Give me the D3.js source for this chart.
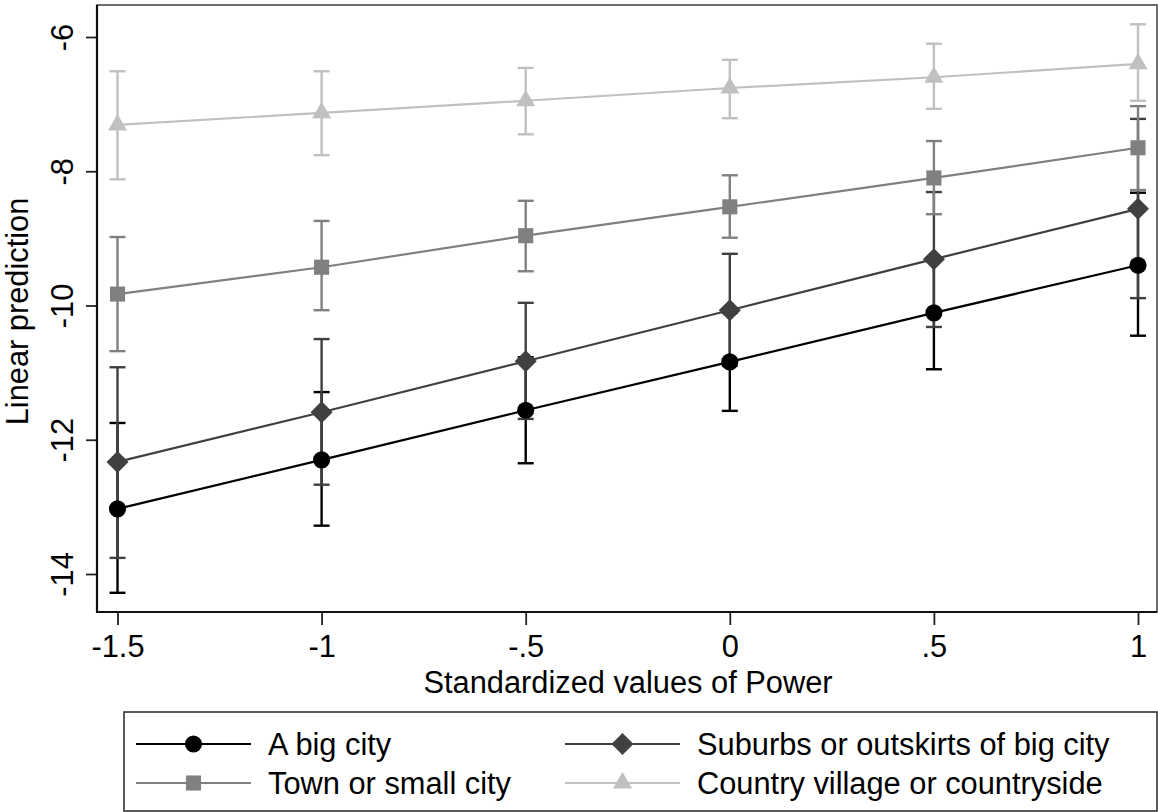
<!DOCTYPE html>
<html>
<head>
<meta charset="utf-8">
<script src="https://cdn.jsdelivr.net/npm/d3@7"></script>
<style>
  html, body { margin: 0; padding: 0; background: #fff; }
  svg { display: block; font-family: "Liberation Sans", Arial, sans-serif; }
</style>
</head>
<body>
<svg id="chart" width="1158" height="812"></svg>
<script>
// Predicted values by standardized Power, one series per place of residence
const powerValues = [-1.5, -1, -0.5, 0, 0.5, 1];

const seriesNames = [
  "A big city",
  "Suburbs or outskirts of big city",
  "Town or small city",
  "Country village or countryside"
];

const bigCity      = [-13.03, -12.30, -11.56, -10.84, -10.11, -9.40];
const bigCityLo    = [-14.28, -13.28, -12.35, -11.57, -10.95, -10.45];
const bigCityHi    = [-11.75, -11.29, -10.77, -10.11, -9.28, -8.32];

const suburbs      = [-12.33, -11.59, -10.83, -10.07, -9.31, -8.56];
const suburbsLo    = [-13.76, -12.67, -11.69, -10.90, -10.32, -9.89];
const suburbsHi    = [-10.92, -10.50, -9.96, -9.23, -8.31, -7.22];

const town         = [-9.83, -9.43, -8.96, -8.53, -8.10, -7.65];
const townLo       = [-10.68, -10.07, -9.49, -8.99, -8.64, -8.28];
const townHi       = [-8.98, -8.74, -8.44, -8.06, -7.55, -7.03];

const country      = [-7.31, -7.13, -6.95, -6.76, -6.60, -6.40];
const countryLo    = [-8.12, -7.76, -7.45, -7.21, -7.07, -6.95];
const countryHi    = [-6.51, -6.51, -6.46, -6.34, -6.10, -5.81];

const xTicks = [-1.5, -1, -0.5, 0, 0.5, 1];
const xTickLabels = ["-1.5", "-1", "-.5", "0", ".5", "1"];
const yTicks = [-14, -12, -10, -8, -6];
const yTickLabels = ["-14", "-12", "-10", "-8", "-6"];

const xTitle = "Standardized values of Power";
const yTitle = "Linear prediction";

// Styling per series (mono scheme)
const colors = ["#000000", "#404040", "#808080", "#c0c0c0"];
const symbols = [d3.symbolCircle, d3.symbolDiamond2, d3.symbolSquare2, d3.symbolTriangle2];
const symbolSizes = [230, 310, 290, 260];

const series = [
  { name: seriesNames[0], y: bigCity, lo: bigCityLo, hi: bigCityHi },
  { name: seriesNames[1], y: suburbs, lo: suburbsLo, hi: suburbsHi },
  { name: seriesNames[2], y: town,    lo: townLo,    hi: townHi },
  { name: seriesNames[3], y: country, lo: countryLo, hi: countryHi }
];

const svg = d3.select("#chart");
const fontSize = 30.8;

// Plot region
const plot = { left: 97, top: 5, right: 1157, bottom: 612 };

const x = d3.scaleLinear().domain([-1.5, 1]).range([117.5, 1138]);
const y = d3.scaleLinear().domain([-14, -6]).range([574, 37]);

// Plot region outline
svg.append("rect")
  .attr("x", plot.left).attr("y", plot.top)
  .attr("width", plot.right - plot.left)
  .attr("height", plot.bottom - plot.top)
  .attr("fill", "none")
  .attr("stroke", "#4a4a4a")
  .attr("stroke-width", 1.6);

// Y axis
const yAxis = svg.append("g")
  .attr("transform", `translate(${plot.left},0)`)
  .call(d3.axisLeft(y).tickValues(yTicks)
    .tickFormat((d, i) => yTickLabels[i]).tickSize(11));
yAxis.select(".domain").remove();
yAxis.selectAll(".tick line").attr("stroke", "#222").attr("stroke-width", 1.8);
yAxis.selectAll(".tick text")
  .attr("x", 0).attr("dy", 0)
  .attr("text-anchor", "middle")
  .attr("transform", "translate(-24,0) rotate(-90)")
  .attr("font-size", fontSize)
  .attr("font-family", "Liberation Sans, Arial, sans-serif")
  .attr("fill", "#000");

// X axis
const xAxis = svg.append("g")
  .attr("transform", `translate(0,${plot.bottom})`)
  .call(d3.axisBottom(x).tickValues(xTicks)
    .tickFormat((d, i) => xTickLabels[i]).tickSize(13));
xAxis.select(".domain").remove();
xAxis.selectAll(".tick line").attr("stroke", "#222").attr("stroke-width", 1.8);
xAxis.selectAll(".tick text")
  .attr("y", 45).attr("dy", 0)
  .attr("font-size", fontSize)
  .attr("font-family", "Liberation Sans, Arial, sans-serif")
  .attr("fill", "#000");

// Axis lines
svg.append("line")
  .attr("x1", plot.left).attr("x2", plot.left)
  .attr("y1", plot.top).attr("y2", plot.bottom + 1)
  .attr("stroke", "#111").attr("stroke-width", 2.2);
svg.append("line")
  .attr("x1", plot.left - 1).attr("x2", plot.right)
  .attr("y1", plot.bottom).attr("y2", plot.bottom)
  .attr("stroke", "#111").attr("stroke-width", 2.2);

// Axis titles
svg.append("text")
  .attr("x", (plot.left + plot.right) / 2 + 1)
  .attr("y", 693)
  .attr("text-anchor", "middle")
  .attr("font-size", fontSize)
  .text(xTitle);

svg.append("text")
  .attr("transform", `translate(28,${(plot.top + plot.bottom) / 2 + 3}) rotate(-90)`)
  .attr("text-anchor", "middle")
  .attr("font-size", fontSize)
  .text(yTitle);

// Confidence intervals (capped spikes)
const capHalf = 8;
series.forEach((s, si) => {
  const g = svg.append("g").attr("stroke", colors[si]).attr("stroke-width", 2.4);
  powerValues.forEach((p, i) => {
    const cx = x(p);
    g.append("line").attr("x1", cx).attr("x2", cx)
      .attr("y1", y(s.lo[i])).attr("y2", y(s.hi[i]));
    g.append("line").attr("x1", cx - capHalf).attr("x2", cx + capHalf)
      .attr("y1", y(s.lo[i])).attr("y2", y(s.lo[i]));
    g.append("line").attr("x1", cx - capHalf).attr("x2", cx + capHalf)
      .attr("y1", y(s.hi[i])).attr("y2", y(s.hi[i]));
  });
});

// Connected lines with markers
const lineGen = d3.line().x((d, i) => x(powerValues[i])).y(d => y(d));
series.forEach((s, si) => {
  svg.append("path")
    .datum(s.y)
    .attr("d", lineGen)
    .attr("fill", "none")
    .attr("stroke", colors[si])
    .attr("stroke-width", 2.2);
  svg.append("g").selectAll("path")
    .data(s.y)
    .join("path")
    .attr("transform", (d, i) => `translate(${x(powerValues[i])},${y(d)})`)
    .attr("d", d3.symbol().type(symbols[si]).size(symbolSizes[si]))
    .attr("fill", colors[si]);
});

// Legend
const legend = svg.append("g");
legend.append("rect")
  .attr("x", 124).attr("y", 712)
  .attr("width", 1033).attr("height", 99)
  .attr("fill", "#fff")
  .attr("stroke", "#333").attr("stroke-width", 1.6);

const legendCols = [136, 565];
const legendRows = [744, 783];
const keyLen = 115;
series.forEach((s, si) => {
  const col = si % 2, row = Math.floor(si / 2);
  const lx = legendCols[col], ly = legendRows[row];
  legend.append("line")
    .attr("x1", lx).attr("x2", lx + keyLen)
    .attr("y1", ly).attr("y2", ly)
    .attr("stroke", colors[si]).attr("stroke-width", 2.2);
  legend.append("path")
    .attr("transform", `translate(${lx + keyLen / 2},${ly})`)
    .attr("d", d3.symbol().type(symbols[si]).size(symbolSizes[si]))
    .attr("fill", colors[si]);
  legend.append("text")
    .attr("x", lx + keyLen + 17)
    .attr("y", ly + 11)
    .attr("font-size", fontSize)
    .text(s.name);
});
</script>
</body>
</html>
